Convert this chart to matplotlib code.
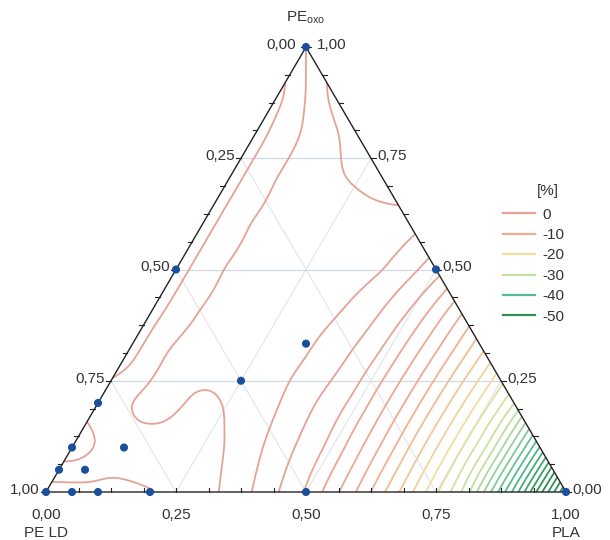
import numpy as np
import matplotlib
matplotlib.use("Agg")
import matplotlib.pyplot as plt
import matplotlib.tri as mtri
from matplotlib.colors import LinearSegmentedColormap
from matplotlib.lines import Line2D

plt.rcParams['font.family'] = ['Liberation Sans', 'DejaVu Sans']

# ---------------- data ----------------
# response [%] estimated on a lattice: rows = PE_oxo fraction, columns = PLA fraction (step 0.1)
oxo_levels = [0.0, 0.1, 0.2, 0.3, 0.4, 0.5, 0.6, 0.7, 0.8, 0.9, 1.0]
pla_step = 0.1
z_oxo_00 = [7.0, 6.8, 6.1, 5.0, 1.9, -2.1, -8.2, -15.5, -23.8, -38.5, -56.0]
z_oxo_01 = [2.6, 5.0, 5.0, 4.0, 1.0, -2.5, -8.5, -15.8, -24.0, -38.0]
z_oxo_02 = [5.0, 2.9, 4.5, 3.4, 0.6, -2.7, -8.6, -15.7, -23.6]
z_oxo_03 = [6.8, 3.0, 3.3, 3.0, 1.0, -2.6, -8.4, -15.2]
z_oxo_04 = [6.8, 3.6, 3.2, 3.0, 1.5, -2.2, -8.0]
z_oxo_05 = [6.8, 3.6, 3.3, 3.2, 2.2, -1.0]
z_oxo_06 = [6.8, 3.6, 3.3, 3.2, 2.8]
z_oxo_07 = [6.8, 3.6, 2.3, 1.0]
z_oxo_08 = [6.8, 3.6, 1.2]
z_oxo_09 = [6.5, 1.5]
z_oxo_10 = [4.0]
z_rows = [z_oxo_00, z_oxo_01, z_oxo_02, z_oxo_03, z_oxo_04, z_oxo_05,
          z_oxo_06, z_oxo_07, z_oxo_08, z_oxo_09, z_oxo_10]

contour_levels = list(range(-54, 8, 2))

# measured mixtures (PLA, PE_oxo); PE LD = 1 - PLA - PE_oxo
pts_pla = [0.0, 0.0, 0.5, 1.0, 0.5, 1/3, 0.25, 0.0, 0.0, 0.0, 0.0, 0.05, 0.1, 0.2, 0.05, 0.1]
pts_oxo = [1.0, 0.5, 0.5, 0.0, 0.0, 1/3, 0.25, 0.2, 0.1, 0.05, 0.0, 0.0, 0.0, 0.0, 0.05, 0.1]

legend_values = [0, -10, -20, -30, -40, -50]
legend_colors = ['#e6a296', '#f0ab90', '#efdf9e', '#c0e0a0', '#55bb90', '#2f8f55']
# colour anchors used for the contour lines (same palette)
line_color_anchors = [0, -9, -18, -26, -36, -48]

tick_labels = ['0,00', '0,25', '0,50', '0,75', '1,00']
tick_fracs = [0.0, 0.25, 0.5, 0.75, 1.0]
minor_fracs = np.arange(0, 1.0001, 0.0625)

# ---------------- helpers ----------------
def tern(pla, oxo):
    pla = np.asarray(pla, float); oxo = np.asarray(oxo, float)
    return pla + oxo / 2.0, oxo

def cart(pla, oxo):
    pla = np.asarray(pla, float); oxo = np.asarray(oxo, float)
    return pla + oxo / 2.0, oxo * np.sqrt(3) / 2.0

# ---------------- surface (distance-weighted local linear smoothing) ----------------
na, nb, nz = [], [], []
for i, row in enumerate(z_rows):
    for j, v in enumerate(row):
        na.append(j * pla_step); nb.append(oxo_levels[i]); nz.append(v)
na, nb, nz = np.array(na), np.array(nb), np.array(nz)
nX, nY = cart(na, nb)

K = 140
ga, gb = [], []
for i in range(K + 1):
    for j in range(K + 1 - i):
        ga.append(j / K); gb.append(i / K)
ga, gb = np.array(ga), np.array(gb)
gX, gY = cart(ga, gb)

sigma = 0.042
dX = nX[None, :] - gX[:, None]
dY = nY[None, :] - gY[:, None]
w = np.exp(-(dX ** 2 + dY ** 2) / (2 * sigma ** 2))
V = np.stack([np.ones_like(dX), dX, dY], axis=-1)
M = np.einsum('pn,pni,pnj->pij', w, V, V)
rhs = np.einsum('pn,pni,n->pi', w, V, nz)
coef = np.linalg.solve(M + 1e-9 * np.eye(3)[None], rhs[..., None])[..., 0]
gz = coef[:, 0]

px_g, py_g = tern(ga, gb)
tri = mtri.Triangulation(px_g, py_g)

# ---------------- figure ----------------
W, H = 610, 540
fig = plt.figure(figsize=(W / 100, H / 100), dpi=100)
ax = fig.add_axes([0, 0, 1, 1])
ax.set_xlim(-46 / 520, (W - 46) / 520)
ax.set_ylim((492 - H) / 445, 492 / 445)
ax.axis('off')

# grid lines
for f in [0.25, 0.5, 0.75]:
    x, y = tern([0, 1 - f], [f, f])
    ax.plot(x, y, color='#d3d9e3', lw=0.9, zorder=1)
    x, y = tern([f, f], [0, 1 - f])
    ax.plot(x, y, color='#e0e4ea', lw=0.8, zorder=1)
    x, y = tern([1 - f, 0], [0, 1 - f])
    ax.plot(x, y, color='#e0e4ea', lw=0.8, zorder=1)

# contours
lo, hi = min(line_color_anchors), max(line_color_anchors)
cmap = LinearSegmentedColormap.from_list(
    'resp', list(zip([(v - lo) / (hi - lo) for v in line_color_anchors[::-1]], legend_colors[::-1])))
lev_cols = [cmap(float(min(max((v - lo) / (hi - lo), 0.0), 1.0))) for v in contour_levels]
ax.tricontour(tri, gz, levels=contour_levels, colors=lev_cols, linewidths=1.3, zorder=2)

# triangle edges
x, y = tern([0, 1, 0, 0], [0, 0, 1, 0])
ax.plot(x, y, color='#222222', lw=1.0, zorder=3, solid_joinstyle='miter')

# minor ticks
tl = 0.010
for f in minor_fracs:
    x, y = tern(f, 0)
    ax.plot([x, x], [0, tl], color='#222222', lw=0.8, zorder=3)
    x, y = tern(0, 1 - f)
    ax.plot([x, x - tl * 0.9], [y, y], color='#222222', lw=0.8, zorder=3)
    x, y = tern(1 - f, f)
    ax.plot([x, x + tl * 0.9], [y, y], color='#222222', lw=0.8, zorder=3)

# points
px, py = tern(pts_pla, pts_oxo)
ax.scatter(px, py, s=34, color='#1a4f9e', zorder=5, clip_on=False, edgecolors='none')

# tick labels
tc = '#333333'
fs = 11
for f, lab in zip(tick_fracs, tick_labels):
    x, y = tern(f, 0)
    ax.text(x, y - 0.052, lab, ha='center', va='center', fontsize=fs, color=tc)
    x, y = tern(0, 1 - f)
    dx = 0.02 if f == 0.0 else 0.012
    ax.text(x - dx, y + 0.005, lab, ha='right', va='center', fontsize=fs, color=tc)
    x, y = tern(1 - f, f)
    dx = 0.02 if f == 1.0 else 0.012
    ax.text(x + dx, y + 0.005, lab, ha='left', va='center', fontsize=fs, color=tc)

# axis titles
x, y = tern(0, 1)
ax.text(x, y + 0.048, r'PE$_{\mathregular{oxo}}$', ha='center', va='bottom', fontsize=fs, color=tc)
x, y = tern(0, 0)
ax.text(x, y - 0.092, 'PE LD', ha='center', va='center', fontsize=fs, color=tc)
x, y = tern(1, 0)
ax.text(x, y - 0.092, 'PLA', ha='center', va='center', fontsize=fs, color=tc)

# legend
handles = [Line2D([], [], color=c, lw=1.6) for c in legend_colors]
labels = [str(v) for v in legend_values]
leg = fig.legend(handles, labels, loc='upper left', bbox_to_anchor=(495 / W, 1 - 200 / H),
                 frameon=False, fontsize=fs, handlelength=2.1, handletextpad=0.5,
                 labelspacing=0.42, borderpad=0)
for t in leg.get_texts():
    t.set_color(tc)
fig.text(537 / W, 1 - 191 / H, '[%]', ha='left', va='center', fontsize=fs, color=tc)

fig.savefig('out.png', dpi=100)
